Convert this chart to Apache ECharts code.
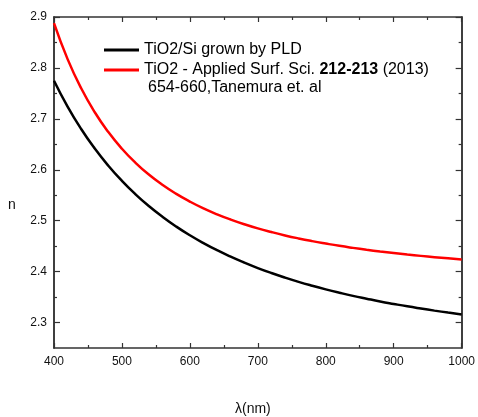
<!DOCTYPE html>
<html>
<head>
<meta charset="utf-8">
<script src="https://cdn.jsdelivr.net/npm/echarts@6/dist/echarts.min.js"></script>
<style>
  html, body { margin: 0; padding: 0; background: #fff; }
  #chart { width: 478px; height: 417px; }
</style>
</head>
<body>
<div id="chart"></div>
<script>
// Wavelength grid (nm)
const wavelengths = [400, 420, 440, 460, 480, 500, 520, 540, 560, 580, 600,
                     620, 640, 660, 680, 700, 720, 740, 760, 780, 800,
                     820, 840, 860, 880, 900, 920, 940, 960, 980, 1000];

// Refractive index, TiO2/Si grown by PLD
const nPLD = [2.7749, 2.7241, 2.6800, 2.6417, 2.6079, 2.5782, 2.5518, 2.5283, 2.5073, 2.4884, 2.4714,
              2.4560, 2.4420, 2.4293, 2.4177, 2.4070, 2.3972, 2.3882, 2.3799, 2.3723, 2.3652,
              2.3586, 2.3524, 2.3468, 2.3414, 2.3365, 2.3318, 2.3275, 2.3234, 2.3196, 2.3160];

// Refractive index, TiO2 (Tanemura et al.)
const nTanemura = [2.8879, 2.8173, 2.7600, 2.7130, 2.6740, 2.6413, 2.6137, 2.5901, 2.5700, 2.5526, 2.5375,
                   2.5241, 2.5125, 2.5023, 2.4931, 2.4849, 2.4777, 2.4711, 2.4652, 2.4599, 2.4551,
                   2.4506, 2.4466, 2.4429, 2.4395, 2.4364, 2.4335, 2.4309, 2.4284, 2.4261, 2.4240];

// Tick values
const yMajorTicks = [2.3, 2.4, 2.5, 2.6, 2.7, 2.8, 2.9];
const yMinorTicks = [2.35, 2.45, 2.55, 2.65, 2.75, 2.85];

const seriesNames = ['TiO2/Si grown by PLD', 'TiO2 - Applied Surf. Sci. 212-213 (2013)'];

const FONT = '"Liberation Sans", Arial, sans-serif';
const AXIS_COLOR = '#333';
const Y_MIN = 2.25, Y_MAX = 2.9, X_MIN = 400, X_MAX = 1000;

function xAxisDef(position, showLabels) {
  return {
    type: 'value', position: position, min: X_MIN, max: X_MAX, interval: 100,
    axisLine: { show: true, onZero: false, lineStyle: { color: AXIS_COLOR, width: 1.5 } },
    axisTick: { show: true, inside: true, length: 5, lineStyle: { color: AXIS_COLOR, width: 1.2 } },
    minorTick: { show: true, splitNumber: 2, length: 3, lineStyle: { color: AXIS_COLOR, width: 1.2 } },
    axisLabel: { show: showLabels, fontFamily: FONT, fontSize: 12, color: '#111', margin: 8,
                 formatter: v => String(v) },
    splitLine: { show: false }, minorSplitLine: { show: false }
  };
}

function yAxisDef(position, ticks, len, showLabels) {
  return {
    type: 'value', position: position, min: Y_MIN, max: Y_MAX,
    axisLine: { show: true, onZero: false, lineStyle: { color: AXIS_COLOR, width: 1.5 } },
    axisTick: { show: true, inside: true, length: len, customValues: ticks,
                lineStyle: { color: AXIS_COLOR, width: 1.2 } },
    axisLabel: { show: showLabels, customValues: ticks, fontFamily: FONT, fontSize: 12,
                 color: '#111', margin: 7, formatter: v => v.toFixed(1) },
    splitLine: { show: false }
  };
}

const chart = echarts.init(document.getElementById('chart'), null, { renderer: 'canvas' });

chart.setOption({
  animation: false,
  backgroundColor: '#fff',
  grid: { left: 54, top: 17, right: 15, bottom: 69, containLabel: false },
  xAxis: [
    xAxisDef('bottom', true),
    xAxisDef('top', false)
  ],
  yAxis: [
    yAxisDef('left', yMajorTicks, 6, true),
    yAxisDef('left', yMinorTicks, 3, false),
    yAxisDef('right', yMajorTicks, 6, false),
    yAxisDef('right', yMinorTicks, 3, false)
  ],
  legend: {
    orient: 'vertical', left: 99, top: 35,
    itemWidth: 35, itemHeight: 3, itemGap: 0, icon: 'rect',
    data: seriesNames,
    formatter: function (name) {
      return name === seriesNames[1]
        ? 'TiO2 - Applied Surf. Sci. {b|212-213} (2013)'
        : name;
    },
    textStyle: {
      fontFamily: FONT, fontSize: 16, color: '#000', lineHeight: 20,
      rich: { b: { fontFamily: FONT, fontSize: 16, fontWeight: 'bold', color: '#000', lineHeight: 20 } }
    }
  },
  graphic: [
    { type: 'text', left: 148, top: 80,
      style: { text: '654-660,Tanemura et. al', font: '16px ' + FONT, fill: '#000' } },
    { type: 'text', left: 8, top: 198,
      style: { text: 'n', font: '14px ' + FONT, fill: '#111' } },
    { type: 'text', left: 235, top: 402,
      style: { text: 'λ(nm)', font: '14px ' + FONT, fill: '#111' } }
  ],
  series: [
    {
      name: seriesNames[0], type: 'line', smooth: true, showSymbol: false,
      xAxisIndex: 0, yAxisIndex: 0,
      lineStyle: { color: '#000', width: 2.5 }, itemStyle: { color: '#000' },
      data: wavelengths.map((w, i) => [w, nPLD[i]])
    },
    {
      name: seriesNames[1], type: 'line', smooth: true, showSymbol: false,
      xAxisIndex: 0, yAxisIndex: 0,
      lineStyle: { color: '#ff0000', width: 2.5 }, itemStyle: { color: '#ff0000' },
      data: wavelengths.map((w, i) => [w, nTanemura[i]])
    }
  ]
});
</script>
</body>
</html>
